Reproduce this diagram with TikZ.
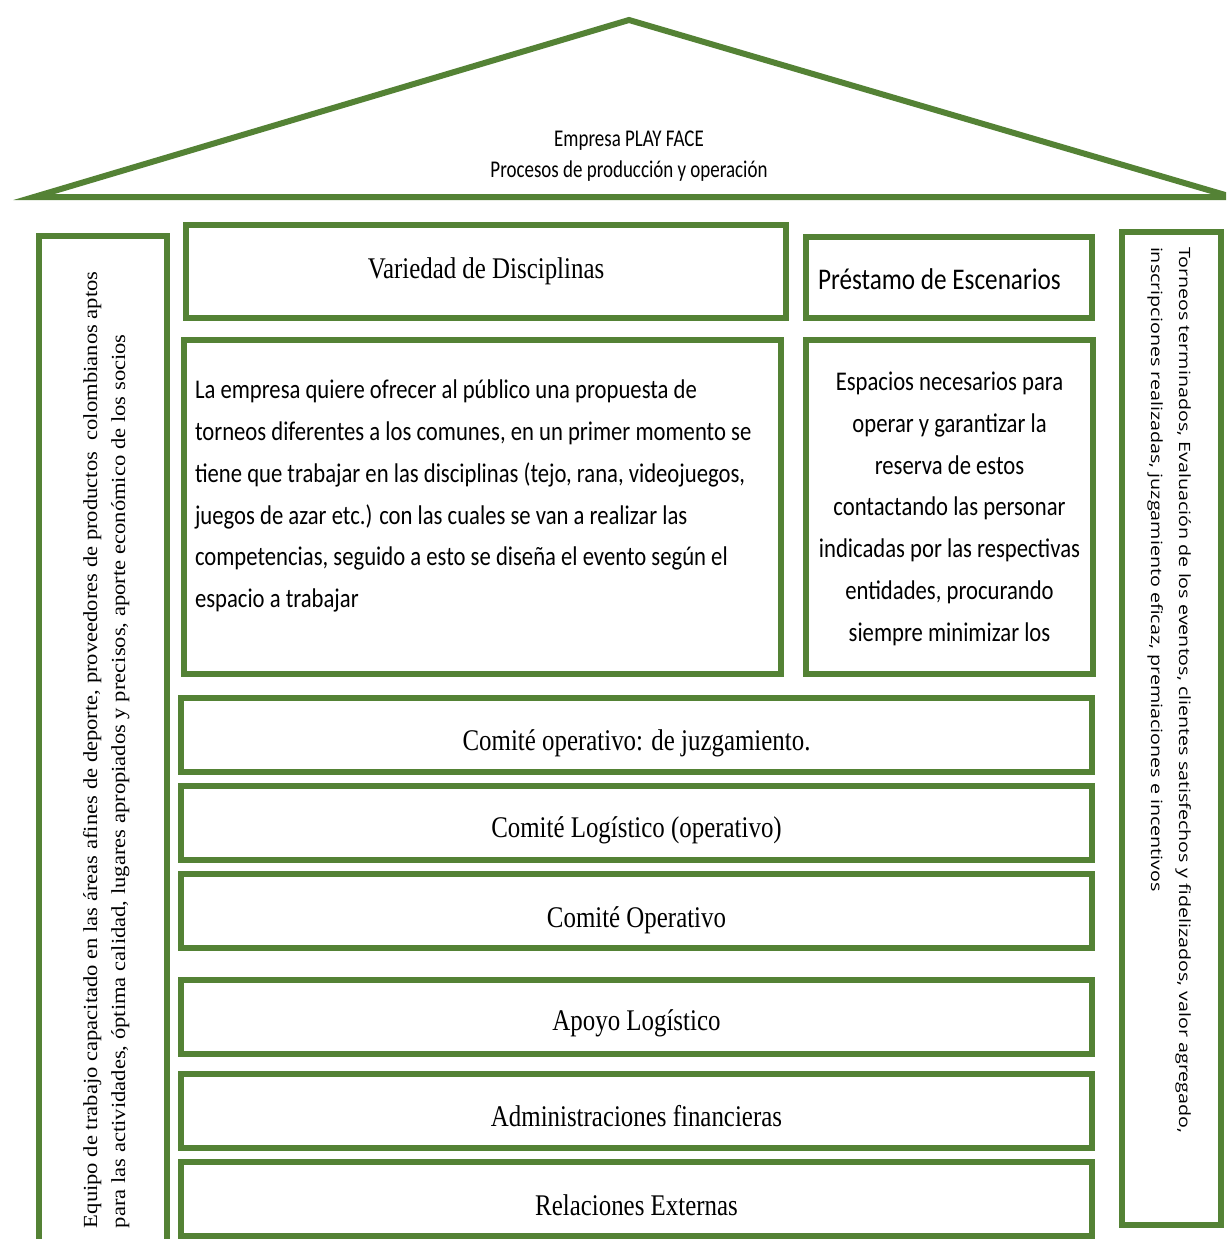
\documentclass[tikz,border=0pt]{standalone}
\usepackage{fontspec}
\setmainfont{Liberation Serif}
\newfontfamily\serifH[FakeStretch=0.83]{Liberation Serif}
\newfontfamily\serifV[FakeStretch=1.13]{Liberation Serif}
\newfontfamily\calH[FakeStretch=0.84]{Carlito}
\newfontfamily\calR[FakeStretch=0.79]{Carlito}
\newfontfamily\sansV[FakeStretch=1.27]{Open Sans}
\definecolor{pgreen}{RGB}{84,130,53}
\begin{document}
\begin{tikzpicture}[x=1pt,y=-1pt,
  box/.style={draw=pgreen, line width=6pt, rectangle, inner sep=0pt, outer sep=0pt, fill=white},
  txt/.style={inner sep=0pt, outer sep=0pt, text=black},
  roofT/.style={txt, anchor=base, font=\calR\fontsize{24}{30}\selectfont},
  serT/.style={txt, anchor=base, font=\serifH\fontsize{30}{36}\selectfont},
  calT/.style={txt, font=\calH\fontsize{27}{41.8}\selectfont},
  rowbox/.style={box, minimum width=911pt, minimum height=74pt}]
\clip (0,0) rectangle (1226,1239);
\fill[white] (0,0) rectangle (1226,1239);
% roof
\coordinate (rl) at (34,197);
\coordinate (ra) at (629,20);
\coordinate (rr) at (1232,197);
\draw[pgreen, line width=6pt, line join=miter] (rl) -- (ra) -- (rr) -- cycle;
\node[roofT] (roof1) at (629,146) {Empresa PLAY FACE};
\node[roofT] (roof2) at (629,177) {Procesos de producción y operación};
% side columns
\node[box, minimum width=127.5pt, minimum height=1024.5pt] (left) at (102.75,747.75) {};
\node[txt, rotate=90, anchor=north west, align=left,
      font=\serifV\fontsize{20}{28}\selectfont] (leftT) at (83,1228)
  {Equipo de trabajo capacitado en las áreas afines de deporte, proveedores de productos~ colombianos aptos\\
   para las actividades, óptima calidad, lugares apropiados y precisos, aporte económico de los socios};
\node[box, minimum width=99.5pt, minimum height=993.5pt] (right) at (1171.25,728.25) {};
\node[txt, rotate=-90, anchor=north west, align=left,
      font=\sansV\fontsize{15.5}{28}\selectfont] (rightT) at (1191,247)
  {Torneos terminados, Evaluación de los eventos, clientes satisfechos y fidelizados, valor agregado,\\
   inscripciones realizadas, juzgamiento eficaz, premiaciones e incentivos};
% top boxes
\node[box, minimum width=600pt, minimum height=93pt] (var) at (486,271.5) {};
\node[serT] (varT) at (486,278) {Variedad de Disciplinas};
\node[box, minimum width=286pt, minimum height=81pt] (pres) at (949,277.5) {};
\node[txt, anchor=base west, font=\calH\fontsize{30}{36}\selectfont] (presT) at (818,289) {Préstamo de Escenarios};
\node[box, minimum width=597pt, minimum height=334pt] (desc) at (482.5,507) {};
\node[calT, anchor=north west, align=left] (descT) at (195,380)
  {La empresa quiere ofrecer al público una propuesta de\\
   torneos diferentes a los comunes, en un primer momento se\\
   tiene que trabajar en las disciplinas (tejo, rana, videojuegos,\\
   juegos de azar etc.) con las cuales se van a realizar las\\
   competencias, seguido a esto se diseña el evento según el\\
   espacio a trabajar};
\node[box, minimum width=287pt, minimum height=334pt] (esp) at (949.5,507) {};
\node[calT, anchor=north, align=center] (espT) at (949.5,372)
  {Espacios necesarios para\\
   operar y garantizar la\\
   reserva de estos\\
   contactando las personar\\
   indicadas por las respectivas\\
   entidades, procurando\\
   siempre minimizar los};
% rows
\node[rowbox] (r1) at (636.5,735) {};
\node[serT] (r1T) at (636.5,750) {Comité operativo: de juzgamiento.};
\node[rowbox] (r2) at (636.5,823) {};
\node[serT] (r2T) at (636.5,837) {Comité Logístico (operativo)};
\node[rowbox] (r3) at (636.5,910.5) {};
\node[serT] (r3T) at (636.5,927) {Comité Operativo};
\node[rowbox] (r4) at (636.5,1016.5) {};
\node[serT] (r4T) at (636.5,1030) {Apoyo Logístico};
\node[rowbox] (r5) at (636.5,1110.5) {};
\node[serT] (r5T) at (636.5,1126) {Administraciones financieras};
\node[rowbox] (r6) at (636.5,1198.5) {};
\node[serT] (r6T) at (636.5,1215) {Relaciones Externas};
\end{tikzpicture}
\end{document}
